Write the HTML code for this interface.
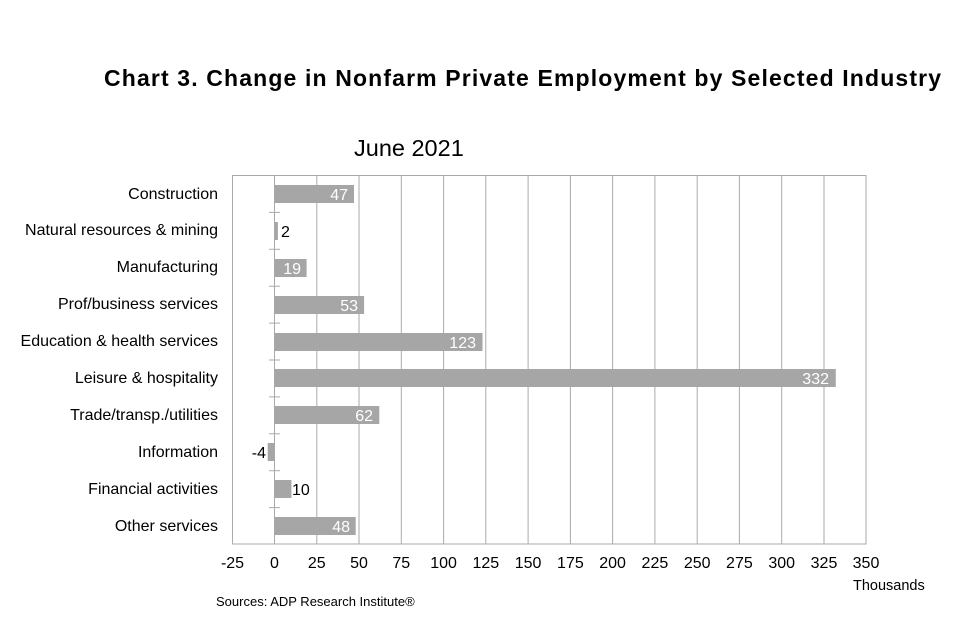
<!DOCTYPE html>
<html><head><style>body{margin:0;background:#fff}svg{display:block}</style></head><body>
<svg width="972" height="623" xmlns="http://www.w3.org/2000/svg" font-family="Liberation Sans, Arial, sans-serif">
<rect width="972" height="623" fill="#fff"/>
<text x="104" y="86" font-size="23" font-weight="bold" fill="#000" textLength="837" lengthAdjust="spacing">Chart 3. Change in Nonfarm Private Employment by Selected Industry</text>
<text x="354" y="156" font-size="23.5" fill="#000">June 2021</text>
<g stroke="#aaa" stroke-width="1">
<rect x="232.5" y="175.5" width="633.5" height="368.5" fill="none"/>
<line x1="274.5" y1="175.5" x2="274.5" y2="544"/>
<line x1="316.8" y1="175.5" x2="316.8" y2="544"/>
<line x1="359" y1="175.5" x2="359" y2="544"/>
<line x1="401.3" y1="175.5" x2="401.3" y2="544"/>
<line x1="443.6" y1="175.5" x2="443.6" y2="544"/>
<line x1="485.8" y1="175.5" x2="485.8" y2="544"/>
<line x1="528.1" y1="175.5" x2="528.1" y2="544"/>
<line x1="570.4" y1="175.5" x2="570.4" y2="544"/>
<line x1="612.6" y1="175.5" x2="612.6" y2="544"/>
<line x1="654.9" y1="175.5" x2="654.9" y2="544"/>
<line x1="697.2" y1="175.5" x2="697.2" y2="544"/>
<line x1="739.4" y1="175.5" x2="739.4" y2="544"/>
<line x1="781.7" y1="175.5" x2="781.7" y2="544"/>
<line x1="824" y1="175.5" x2="824" y2="544"/>
<line x1="269" y1="212.4" x2="280" y2="212.4"/>
<line x1="269" y1="249.3" x2="280" y2="249.3"/>
<line x1="269" y1="286.2" x2="280" y2="286.2"/>
<line x1="269" y1="323.1" x2="280" y2="323.1"/>
<line x1="269" y1="360" x2="280" y2="360"/>
<line x1="269" y1="396.9" x2="280" y2="396.9"/>
<line x1="269" y1="433.8" x2="280" y2="433.8"/>
<line x1="269" y1="470.7" x2="280" y2="470.7"/>
<line x1="269" y1="507.6" x2="280" y2="507.6"/>
</g>
<g fill="#a6a6a6">
<rect x="274.5" y="185" width="79.5" height="18"/>
<rect x="274.5" y="222" width="3.4" height="18"/>
<rect x="274.5" y="259" width="32.1" height="18"/>
<rect x="274.5" y="296" width="89.6" height="18"/>
<rect x="274.5" y="333" width="208" height="18"/>
<rect x="274.5" y="369" width="561.3" height="18"/>
<rect x="274.5" y="406" width="104.8" height="18"/>
<rect x="267.7" y="443" width="6.8" height="18"/>
<rect x="274.5" y="480" width="16.9" height="18"/>
<rect x="274.5" y="517" width="81.2" height="18"/>
</g>
<g font-size="16" fill="#fff" text-anchor="end">
<text x="348" y="200">47</text>
<text x="301" y="274">19</text>
<text x="358" y="311">53</text>
<text x="476" y="348">123</text>
<text x="829" y="384">332</text>
<text x="373" y="421">62</text>
<text x="350" y="532">48</text>
</g>
<g font-size="16" fill="#000">
<text x="281" y="237">2</text>
<text x="292" y="495">10</text>
<text x="266" y="458" text-anchor="end">-4</text>
</g>
<g font-size="16" fill="#000" text-anchor="end">
<text x="218" y="199">Construction</text>
<text x="218" y="235">Natural resources &amp; mining</text>
<text x="218" y="272">Manufacturing</text>
<text x="218" y="309">Prof/business services</text>
<text x="218" y="346">Education &amp; health services</text>
<text x="218" y="383">Leisure &amp; hospitality</text>
<text x="218" y="420">Trade/transp./utilities</text>
<text x="218" y="457">Information</text>
<text x="218" y="494">Financial activities</text>
<text x="218" y="531">Other services</text>
</g>
<g font-size="16" fill="#000" text-anchor="middle">
<text x="232.5" y="568">-25</text><text x="274.5" y="568">0</text><text x="316.8" y="568">25</text>
<text x="359" y="568">50</text><text x="401.3" y="568">75</text><text x="443.6" y="568">100</text>
<text x="485.8" y="568">125</text><text x="528.1" y="568">150</text><text x="570.4" y="568">175</text>
<text x="612.6" y="568">200</text><text x="654.9" y="568">225</text><text x="697.2" y="568">250</text>
<text x="739.4" y="568">275</text><text x="781.7" y="568">300</text><text x="824" y="568">325</text>
<text x="866" y="568">350</text>
</g>
<text x="853" y="590" font-size="14.5" fill="#000">Thousands</text>
<text x="216" y="606" font-size="13" fill="#000">Sources: ADP Research Institute®</text>
</svg>
</body></html>
